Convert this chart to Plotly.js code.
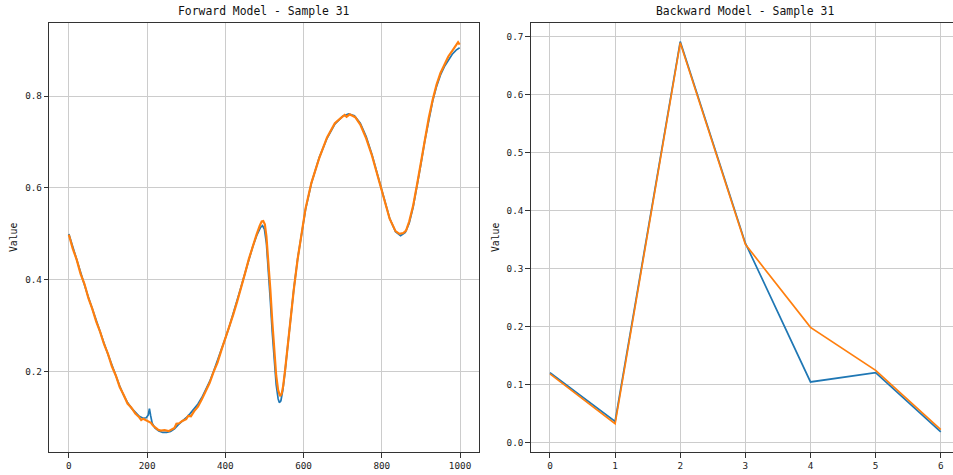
<!DOCTYPE html>
<html>
<head>
<meta charset="utf-8">
<script src="https://cdn.plot.ly/plotly-3.0.1.min.js"></script>
<style>
html,body{margin:0;padding:0;background:#fff;}
#chart{width:953px;height:475px;}
</style>
</head>
<body>
<div id="chart"></div>
<script>
// Forward model - true curve (blue)
const fwdTrueX = [0,10,20,30,40,50,60,70,80,90,100,110,120,130,140,150,160,170,180,190,198,203,206,209,213,220,230,240,250,260,270,280,290,300,310,320,330,340,350,360,370,380,390,400,410,420,430,440,450,460,470,480,490,495,500,505,510,515,520,525,530,535,538,542,547,552,558,565,575,585,595,605,620,640,660,680,700,715,730,745,760,775,790,805,820,835,848,860,870,880,890,900,910,920,930,940,950,960,970,980,990,999];
const fwdTrueY = [0.500,0.471,0.443,0.415,0.389,0.362,0.336,0.311,0.286,0.262,0.238,0.214,0.191,0.169,0.149,0.133,0.121,0.111,0.103,0.099,0.100,0.106,0.120,0.105,0.088,0.078,0.071,0.068,0.068,0.070,0.076,0.085,0.092,0.100,0.109,0.119,0.130,0.144,0.160,0.179,0.201,0.224,0.248,0.273,0.298,0.325,0.354,0.384,0.414,0.444,0.472,0.496,0.514,0.518,0.510,0.480,0.425,0.355,0.285,0.220,0.172,0.141,0.133,0.137,0.160,0.196,0.245,0.305,0.380,0.447,0.505,0.553,0.610,0.666,0.708,0.739,0.756,0.761,0.757,0.741,0.712,0.672,0.626,0.577,0.534,0.505,0.496,0.503,0.523,0.558,0.602,0.652,0.703,0.749,0.789,0.821,0.846,0.864,0.879,0.891,0.900,0.905];

// Forward model - predicted curve (orange)
const fwdPredX = [0,10,20,30,40,50,60,70,80,90,100,110,120,130,140,150,160,170,180,185,190,200,210,215,220,228,235,245,255,262,270,275,282,290,300,305,312,320,330,340,350,360,370,375,380,390,400,410,420,430,440,450,460,470,480,488,493,497,501,505,510,515,520,525,530,535,540,544,548,553,558,565,575,585,595,605,620,640,660,680,695,705,710,718,725,732,745,760,775,790,805,820,835,845,855,862,870,880,890,900,910,920,930,940,950,960,970,980,985,990,995,999];
const fwdPredY = [0.498,0.468,0.444,0.413,0.391,0.360,0.337,0.309,0.287,0.260,0.239,0.212,0.192,0.167,0.150,0.131,0.122,0.109,0.101,0.095,0.098,0.094,0.089,0.083,0.080,0.074,0.072,0.073,0.071,0.075,0.078,0.087,0.088,0.093,0.097,0.104,0.103,0.114,0.124,0.140,0.158,0.176,0.200,0.210,0.220,0.247,0.272,0.296,0.324,0.352,0.381,0.413,0.445,0.474,0.499,0.518,0.527,0.528,0.521,0.495,0.445,0.380,0.310,0.245,0.192,0.160,0.147,0.152,0.170,0.205,0.245,0.303,0.379,0.446,0.503,0.555,0.611,0.665,0.710,0.741,0.752,0.759,0.755,0.760,0.757,0.754,0.738,0.708,0.670,0.624,0.576,0.533,0.506,0.500,0.502,0.507,0.527,0.561,0.607,0.656,0.707,0.752,0.792,0.825,0.850,0.868,0.886,0.898,0.905,0.913,0.917,0.912];

// Backward model
const bwdX = [0,1,2,3,4,5,6];
const bwdTrueY = [0.121,0.037,0.691,0.344,0.105,0.121,0.019];
const bwdPredY = [0.119,0.033,0.689,0.342,0.199,0.125,0.023];

const leftXTicks = [0,200,400,600,800,1000];
const leftYTicks = [0.2,0.4,0.6,0.8];
const rightYTicks = [0.0,0.1,0.2,0.3,0.4,0.5,0.6,0.7];

const titleLeft = 'Forward Model - Sample 31';
const titleRight = 'Backward Model - Sample 31';
const yLabel = 'Value';

const W = 953, H = 475;
const FONT = 'DejaVu Sans Mono, Liberation Mono, monospace';
const blue = '#1f77b4', orange = '#ff7f0e';

const traces = [
  {x: fwdTrueX, y: fwdTrueY, type:'scatter', mode:'lines', line:{color:blue, width:1.7}, xaxis:'x', yaxis:'y', hoverinfo:'skip'},
  {x: fwdPredX, y: fwdPredY, type:'scatter', mode:'lines', line:{color:orange, width:2.2}, xaxis:'x', yaxis:'y', hoverinfo:'skip'},
  {x: bwdX, y: bwdTrueY, type:'scatter', mode:'lines', line:{color:blue, width:1.7}, xaxis:'x2', yaxis:'y2', hoverinfo:'skip'},
  {x: bwdX, y: bwdPredY, type:'scatter', mode:'lines', line:{color:orange, width:1.7}, xaxis:'x2', yaxis:'y2', hoverinfo:'skip'}
];

const yDom = [1-452/H, 1-22.7/H];
const common = {
  showgrid:true, gridcolor:'#cccccc', gridwidth:1,
  zeroline:false, showline:true, linecolor:'#333', linewidth:1,
  ticks:'outside', ticklen:4.5, tickwidth:1, tickcolor:'#333',
  tickfont:{family:FONT, size:9.3, color:'#222'}
};

const layout = {
  width:W, height:H,
  margin:{l:0, r:0, t:0, b:0},
  paper_bgcolor:'#fff', plot_bgcolor:'#fff',
  showlegend:false,
  font:{family:FONT, color:'#111'},
  xaxis: Object.assign({}, common, {domain:[49.3/W, 479.2/W], range:[-49.95,1048.95], tickvals:leftXTicks, mirror:true, anchor:'y'}),
  yaxis: Object.assign({}, common, {domain:yDom, range:[0.0255,0.9595], tickvals:leftYTicks, tickformat:'.1f', mirror:true, anchor:'x',
    title:{text:yLabel, font:{family:FONT, size:9.8, color:'#111'}, standoff:5}}),
  xaxis2: Object.assign({}, common, {domain:[530.7/W, 1], range:[-0.296,6.188], tickvals:bwdX, mirror:true, anchor:'y2'}),
  yaxis2: Object.assign({}, common, {domain:yDom, range:[-0.0156,0.7236], tickvals:rightYTicks, tickformat:'.1f', mirror:false, anchor:'x2',
    title:{text:yLabel, font:{family:FONT, size:9.8, color:'#111'}, standoff:5}}),
  annotations:[
    {text:titleLeft, xref:'paper', yref:'paper', x:264/W, y:1-11.5/H, xanchor:'center', yanchor:'middle', showarrow:false, font:{family:FONT, size:11.4, color:'#111'}},
    {text:titleRight, xref:'paper', yref:'paper', x:745/W, y:1-11.5/H, xanchor:'center', yanchor:'middle', showarrow:false, font:{family:FONT, size:11.4, color:'#111'}}
  ]
};

Plotly.newPlot('chart', traces, layout, {staticPlot:true, displayModeBar:false});
</script>
</body>
</html>
